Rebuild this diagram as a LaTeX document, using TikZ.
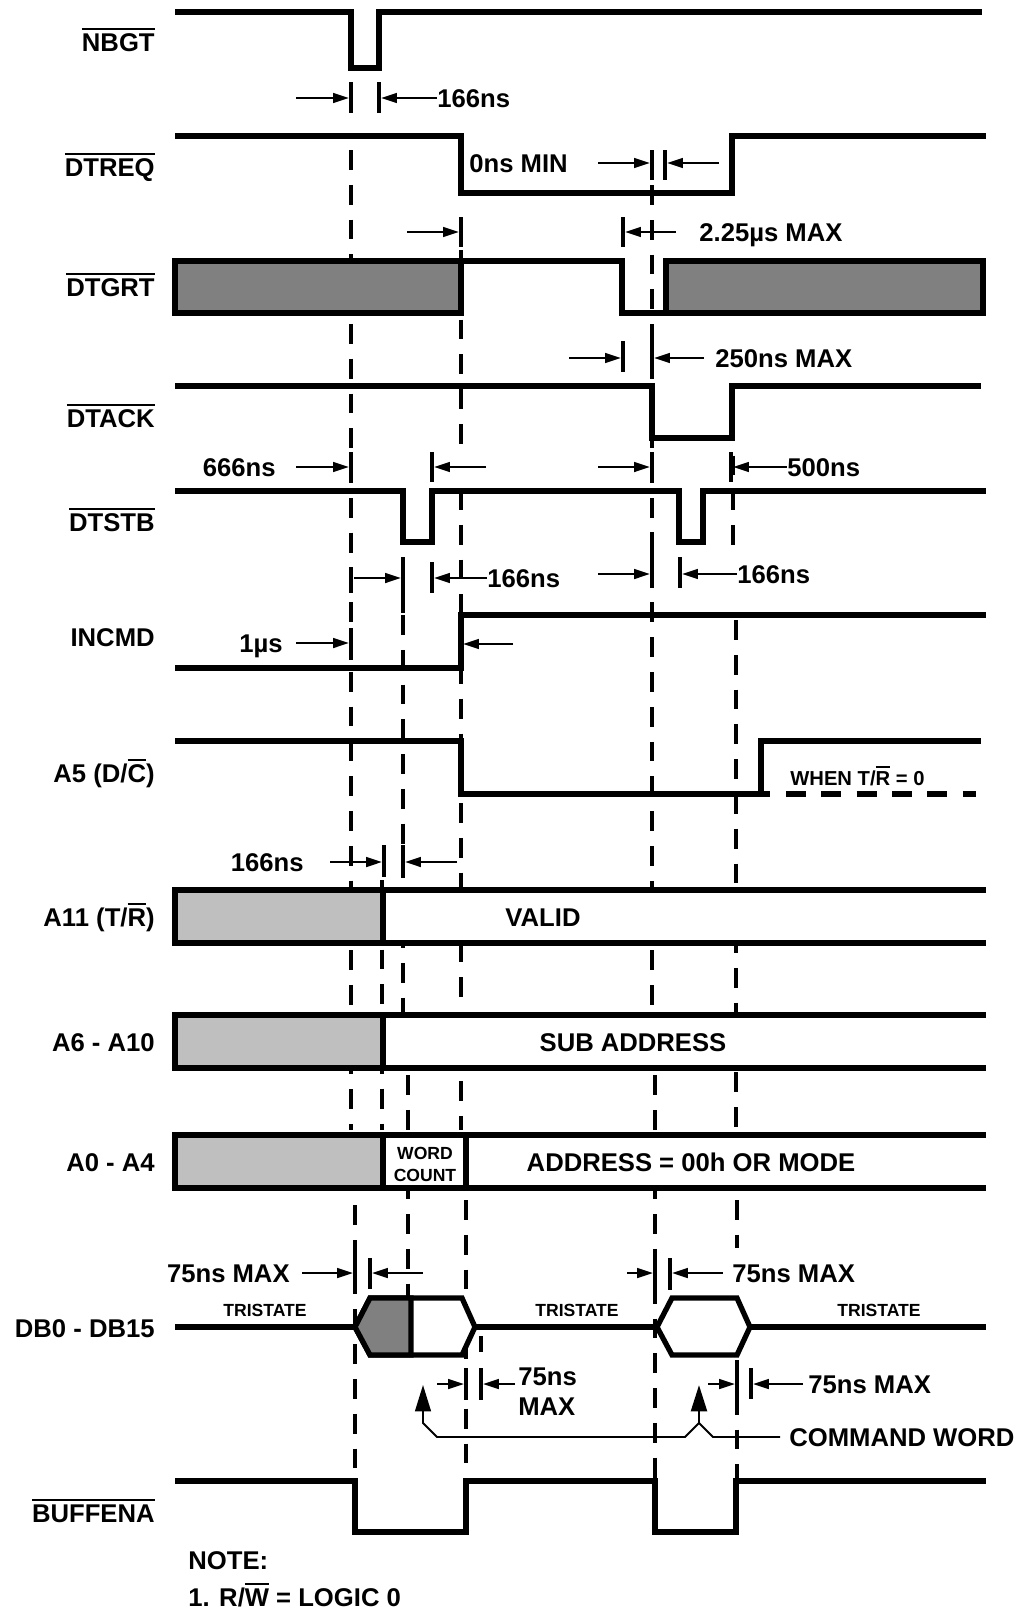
\documentclass[tikz,border=0pt]{standalone}
\usepackage{fontspec}
\setmainfont{Liberation Sans}
\usetikzlibrary{arrows.meta}
\newcommand{\sigfont}{\fontsize{14.6}{17}\selectfont\bfseries}
\newcommand{\smfont}{\fontsize{10}{12.5}\selectfont\bfseries}
\newcommand{\whenfont}{\fontsize{11.5}{13}\selectfont\bfseries}
\newsavebox\ovlbox
\newcommand{\ovl}[1]{\sbox\ovlbox{#1}\rlap{\rule[\dimexpr\ht\ovlbox+2pt\relax]{\wd\ovlbox}{1.2pt}}\usebox\ovlbox}
\tikzset{
sig/.style={line width=3pt},
unknown/.style={fill=black!50},
dontcare/.style={fill=black!25},
guide/.style={line width=1.9pt,dash pattern=on 11.3pt off 8.5pt},
tickln/.style={line width=1.9pt},
dimarrow/.style={line width=1.3pt,-{Triangle[length=9pt,width=5.5pt]}},
callout/.style={line width=1.1pt},
bigtip/.style={-{Triangle[length=15pt,width=9pt]}},
sname/.style={anchor=east,inner sep=0pt,font=\sigfont,text height=10.5pt,text depth=0pt},
dimtxt/.style={anchor=west,inner sep=0pt,font=\sigfont,text height=10.5pt,text depth=0pt},
bustxt/.style={inner sep=0pt,font=\sigfont,text height=10.5pt,text depth=0pt},
smtxt/.style={inner sep=0pt,font=\smfont,align=center}
}

\begin{document}
\begin{tikzpicture}[x=0.02cm,y=-0.02cm]
\useasboundingbox (0,0) rectangle (1029,1610);
% guide lines
\foreach \x/\a/\b in {351/150/1130,355/1205/1480,461/250/448,461/490/1130,466/1200/1480,
  652/185/1070,655/1075/1480,733/386/552,736/620/1130,737/1200/1248,737/1360/1480,
  382/880/1130,403/615/1070,408/1075/1298}
  \draw[guide] (\x,\a) -- (\x,\b);
% signal names
\node[sname] (nbgt) at (155,42) {\ovl{NBGT}};
\node[sname] (dtreq) at (155,167) {\ovl{DTREQ}};
\node[sname] (dtgrt) at (155,287) {\ovl{DTGRT}};
\node[sname] (dtack) at (155,418) {\ovl{DTACK}};
\node[sname] (dtstb) at (155,522) {\ovl{DTSTB}};
\node[sname] (incmd) at (155,637) {INCMD};
\node[sname] (afive) at (155,773) {A5 (D/\ovl{C})};
\node[sname] (aeleven) at (155,917) {A11 (T/\ovl{R})};
\node[sname] (asix) at (155,1042) {A6 - A10};
\node[sname] (azero) at (155,1162) {A0 - A4};
\node[sname] (dbus) at (155,1328) {DB0 - DB15};
\node[sname] (buffena) at (155,1513) {\ovl{BUFFENA}};
% waveforms
\draw[sig] (175,12) -- (351,12) -- (351,68) -- (379,68) -- (379,12) -- (982,12);
\draw[sig] (175,136) -- (461,136) -- (461,193) -- (732,193) -- (732,136) -- (986,136);
\filldraw[sig,unknown] (175,261) rectangle (461,313);
\draw[sig] (461,261) -- (622,261) -- (622,313) -- (666,313) -- (666,261);
\filldraw[sig,unknown] (666,261) rectangle (983,313);
\draw[sig] (175,386) -- (652,386) -- (652,438) -- (732,438) -- (732,386) -- (981,386);
\draw[sig] (175,491) -- (403,491) -- (403,542) -- (432,542) -- (432,491) -- (679,491)
  -- (679,542) -- (703,542) -- (703,491) -- (986,491);
\draw[sig] (175,668) -- (461,668) -- (461,615) -- (986,615);
\draw[sig] (175,741) -- (461,741) -- (461,794) -- (761,794) -- (761,741) -- (981,741);
\draw[sig,dash pattern=on 11.34pt off 8.79pt,dash phase=5.95pt] (761,794) -- (976,794);
\node[inner sep=0pt,font=\whenfont,anchor=west,text height=8.3pt,text depth=0pt] (when) at (790,778) {WHEN T/\ovl{R} = 0};
% buses
\fill[white] (175,890) rectangle (986,943);
\filldraw[sig,dontcare] (175,890) rectangle (383,943);
\draw[sig] (383,890) -- (986,890) (383,943) -- (986,943);
\node[bustxt] (valid) at (543,917) {VALID};
\fill[white] (175,1015) rectangle (986,1068);
\filldraw[sig,dontcare] (175,1015) rectangle (383,1068);
\draw[sig] (383,1015) -- (986,1015) (383,1068) -- (986,1068);
\node[bustxt] (subaddr) at (633,1042) {SUB ADDRESS};
\fill[white] (175,1135) rectangle (986,1188);
\filldraw[sig,dontcare] (175,1135) rectangle (383,1188);
\draw[sig] (383,1135) -- (986,1135) (383,1188) -- (986,1188);
\draw[sig] (466,1135) -- (466,1188);
\node[smtxt] (wcount) at (425,1164) {WORD\\COUNT};
\node[bustxt] (addr) at (691,1162) {ADDRESS = 00h OR MODE};
% data bus
\draw[sig] (175,1327) -- (355,1327);
\filldraw[sig,fill=white] (355,1327) -- (370,1298) -- (462,1298) -- (475,1327) -- (462,1355) -- (370,1355) -- cycle;
\filldraw[sig,unknown] (355,1327) -- (370,1298) -- (411,1298) -- (411,1355) -- (370,1355) -- cycle;
\draw[sig] (475,1327) -- (657,1327);
\filldraw[sig,fill=white] (657,1327) -- (672,1298) -- (737,1298) -- (750,1327) -- (737,1355) -- (672,1355) -- cycle;
\draw[sig] (750,1327) -- (986,1327);
\node[smtxt] (tri1) at (265,1310) {TRISTATE};
\node[smtxt] (tri2) at (577,1310) {TRISTATE};
\node[smtxt] (tri3) at (879,1310) {TRISTATE};
\draw[sig] (175,1481) -- (355,1481) -- (355,1532) -- (466,1532) -- (466,1481) -- (655,1481)
  -- (655,1532) -- (736,1532) -- (736,1481) -- (986,1481);
% ticks
\foreach \x/\a/\b in {351/82/113,379/82/113,652/150/180,665/150/180,461/217/247,623/217/247,
  623/341/372,652/341/372,351/452/482,432/452/482,652/452/482,731/452/482,
  351/573/593,403/557/613,432/562/593,652/532/588,680/557/588,351/628/660,
  384/845/877,403/845/877,355/1258/1289,370/1258/1289,655/1258/1290,670/1258/1290,
  466/1368/1400,481/1368/1400,481/1336/1352,737/1368/1399,751/1368/1399}
  \draw[tickln] (\x,\a) -- (\x,\b);
% timing values
\node[dimtxt] (d1) at (437,98) {166ns};
\node[dimtxt] (d2) at (469,163) {0ns MIN};
\node[dimtxt] (d3) at (699,232) {2.25µs MAX};
\node[dimtxt] (d4) at (715,358) {250ns MAX};
\node[dimtxt,anchor=east] (d5) at (276,467) {666ns};
\node[dimtxt] (d6) at (787,467) {500ns};
\node[dimtxt] (d7) at (487,578) {166ns};
\node[dimtxt] (d8) at (737,574) {166ns};
\node[dimtxt,anchor=east] (d9) at (283,643) {1µs};
\node[dimtxt,anchor=east] (d10) at (304,862) {166ns};
\node[dimtxt,anchor=east] (d11) at (290,1273) {75ns MAX};
\node[dimtxt] (d12) at (732,1273) {75ns MAX};
\node[inner sep=0pt,font=\sigfont,align=left,anchor=west] (d13) at (518,1392) {75ns\\MAX};
\node[dimtxt] (d14) at (808,1384) {75ns MAX};
\draw[dimarrow] (296,98) -- (349,98);
\draw[dimarrow] (d1.west) -- (381,98);
\draw[dimarrow] (598,163) -- (650,163);
\draw[dimarrow] (719,163) -- (667,163);
\draw[dimarrow] (407,232) -- (459,232);
\draw[dimarrow] (676,232) -- (625,232);
\draw[dimarrow] (569,358) -- (621,358);
\draw[dimarrow] (704,358) -- (654,358);
\draw[dimarrow] (296,467) -- (349,467);
\draw[dimarrow] (486,467) -- (434,467);
\draw[dimarrow] (598,467) -- (650,467);
\draw[dimarrow] (d6.west) -- (733,467);
\draw[dimarrow] (354,578) -- (401,578);
\draw[dimarrow] (d7.west) -- (434,578);
\draw[dimarrow] (598,574) -- (650,574);
\draw[dimarrow] (d8.west) -- (682,574);
\draw[dimarrow] (296,643) -- (349,643);
\draw[dimarrow] (513,644) -- (463,644);
\draw[dimarrow] (330,862) -- (382,862);
\draw[dimarrow] (457,862) -- (405,862);
\draw[dimarrow] (302,1273) -- (353,1273);
\draw[dimarrow] (423,1273) -- (372,1273);
\draw[dimarrow] (627,1273) -- (653,1273);
\draw[dimarrow] (723,1273) -- (672,1273);
\draw[dimarrow] (437,1384) -- (464,1384);
\draw[dimarrow] (515,1384) -- (483,1384);
\draw[dimarrow] (708,1384) -- (735,1384);
\draw[dimarrow] (803,1384) -- (753,1384);
% command word callout
\node[dimtxt] (cmdw) at (789,1437) {COMMAND WORD};
\draw[callout,bigtip] (780,1437) -- (713,1437) -- (699,1423) -- (685,1437) -- (437,1437) -- (423,1423) -- (423,1385);
\draw[line width=1.6pt,bigtip] (699,1424) -- (699,1385);
% note
\node[dimtxt] (note) at (188,1560) {NOTE:};
\node[dimtxt] (note1) at (188,1597) {1. R/\ovl{W} = LOGIC 0};
\end{tikzpicture}
\end{document}
